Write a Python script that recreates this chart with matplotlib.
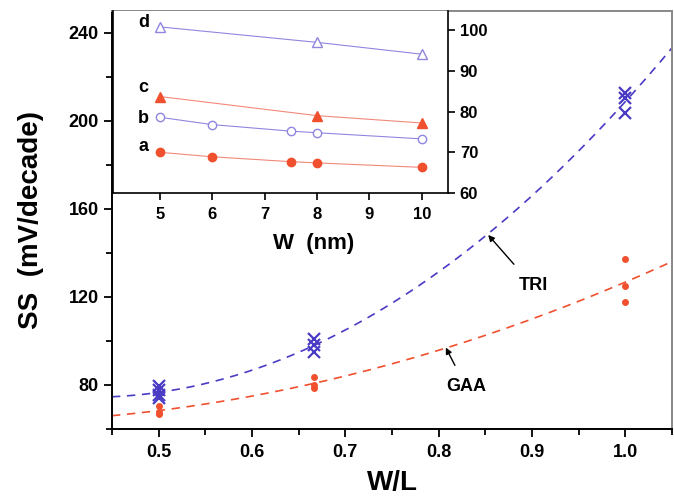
import matplotlib

matplotlib.use("Agg")
import matplotlib.pyplot as plt
import numpy as np

BLUE = "#4a3bc4"
RED = "#f0502e"
BLUE_LT = "#8f86e0"
RED_LT = "#f2897a"

# main panel: SS vs W/L
tri_x = [0.5, 0.5, 0.5, 0.5, 2 / 3, 2 / 3, 2 / 3, 1.0, 1.0, 1.0]
tri_y = [79.5, 77.5, 75.5, 74.0, 101.0, 98.0, 95.0, 212.6, 210.3, 203.5]
gaa_x = [0.5, 0.5, 0.5, 2 / 3, 2 / 3, 2 / 3, 1.0, 1.0, 1.0]
gaa_y = [70.5, 67.9, 66.7, 83.8, 80.0, 78.5, 137.3, 125.1, 117.9]

# inset: SS vs W (nm)
w_a = [5, 6, 7.5, 8, 10]
ss_a = [70.0, 68.9, 67.7, 67.4, 66.3]
w_b = [5, 6, 7.5, 8, 10]
ss_b = [78.6, 76.8, 75.2, 74.8, 73.3]
w_c = [5, 8, 10]
ss_c = [83.7, 79.0, 77.2]
w_d = [5, 8, 10]
ss_d = [100.8, 97.0, 94.1]

plt.rcParams.update({"font.family": "Liberation Sans", "font.weight": "bold",
                     "axes.labelweight": "bold"})

fig = plt.figure(figsize=(6.74, 4.98), dpi=100)
ax = fig.add_axes([0.1662, 0.1386, 0.8309, 0.8394])

xs = np.linspace(0.45, 1.05, 200)
tri_fit = np.polyval(np.polyfit(tri_x, tri_y, 2), xs)
gaa_fit = np.polyval(np.polyfit(gaa_x, gaa_y, 2), xs)
ax.plot(xs, tri_fit, color=BLUE, lw=1.2, dashes=(5, 4))
ax.plot(xs, gaa_fit, color=RED, lw=1.2, dashes=(5, 4))
ax.plot(tri_x, tri_y, ls="none", marker="x", ms=8, mew=1.6, color=BLUE)
ax.plot(gaa_x, gaa_y, ls="none", marker="o", ms=5, mew=0, color=RED)

ax.set_xlim(0.45, 1.05)
ax.set_ylim(60, 250)
ax.set_xticks([0.5, 0.6, 0.7, 0.8, 0.9, 1.0])
ax.set_xticklabels(["0.5", "0.6", "0.7", "0.8", "0.9", "1.0"])
ax.set_xticks(np.arange(0.45, 1.06, 0.05), minor=True)
ax.set_yticks([80, 120, 160, 200, 240])
ax.set_yticks(np.arange(60, 251, 20), minor=True)
ax.tick_params(axis="both", which="major", direction="out", length=6, width=1.3, labelsize=13)
ax.tick_params(axis="both", which="minor", direction="out", length=4, width=1.3)
ax.tick_params(axis="x", which="major", pad=5)
for s in ["left", "bottom"]:
    ax.spines[s].set_linewidth(1.4)
for s in ["top", "right"]:
    ax.spines[s].set_color("#888888")
    ax.spines[s].set_linewidth(1.4)
ax.set_xlabel("W/L", fontsize=20, labelpad=6)
ax.set_ylabel("SS  (mV/decade)", fontsize=20, labelpad=18)

ax.annotate("TRI", xy=(0.853, 148.2), xytext=(0.901, 125), fontsize=13, ha="center", va="center",
            arrowprops=dict(arrowstyle="-|>", color="black", lw=1.0, shrinkA=10, shrinkB=0, mutation_scale=9))
ax.annotate("GAA", xy=(0.8076, 97.0), xytext=(0.829, 79.3), fontsize=13, ha="center", va="center",
            arrowprops=dict(arrowstyle="-|>", color="black", lw=1.0, shrinkA=8, shrinkB=0, mutation_scale=9))

# inset
ins = fig.add_axes([0.1672, 0.6124, 0.4975, 0.3655])
ins.plot(w_d, ss_d, color=BLUE_LT, lw=0.8, marker="^", ms=6.5, mfc="white", mec=BLUE_LT, mew=1.0)
ins.plot(w_c, ss_c, color=RED_LT, lw=0.8, marker="^", ms=6.5, mfc=RED, mec=RED)
ins.plot(w_b, ss_b, color=BLUE_LT, lw=0.8, marker="o", ms=6, mfc="white", mec=BLUE_LT, mew=1.0)
ins.plot(w_a, ss_a, color=RED_LT, lw=0.8, marker="o", ms=6, mfc=RED, mec=RED)
for lab, yy in zip(["d", "c", "b", "a"], [101.8, 86.0, 78.3, 71.4]):
    ins.text(4.69, yy, lab, fontsize=13, ha="center", va="center")
ins.set_xlim(4.1, 10.5)
ins.set_ylim(60, 104.7)
ins.set_xticks([5, 6, 7, 8, 9, 10])
ins.set_yticks([60, 70, 80, 90, 100])
ins.yaxis.tick_right()
ins.tick_params(axis="both", direction="out", length=5, width=1.2, labelsize=12)
ins.tick_params(axis="x", pad=5)
ins.spines["top"].set_visible(False)
for s in ["left", "bottom", "right"]:
    ins.spines[s].set_linewidth(1.2)
ins.set_xlabel("W  (nm)", fontsize=16, labelpad=2)
ins.xaxis.set_label_coords(0.6, -0.22)

fig.savefig("out.png", dpi=100)
